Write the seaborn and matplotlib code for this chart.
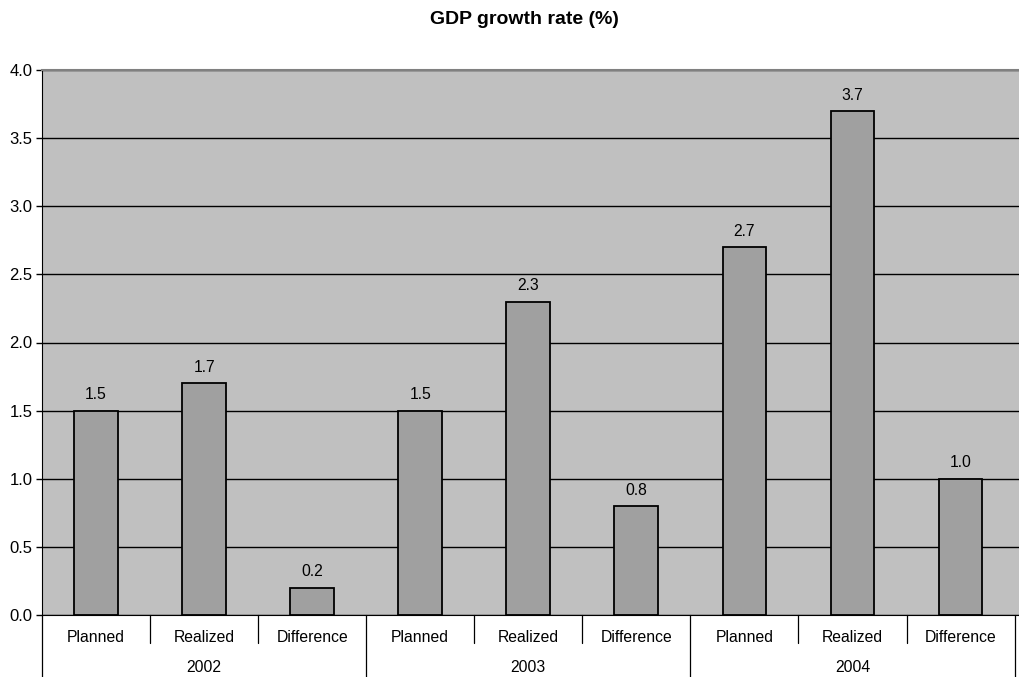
import matplotlib
matplotlib.use("Agg")
import matplotlib.pyplot as plt
import matplotlib.transforms as mtransforms
import pandas as pd
import seaborn as sns

years = ["2002", "2003", "2004"]
items = ["Planned", "Realized", "Difference"]
values = [1.5, 1.7, 0.2, 1.5, 2.3, 0.8, 2.7, 3.7, 1.0]

keys = [y + " " + i for y in years for i in items]
df = pd.DataFrame({"key": keys, "value": values})

sns.set_style("white")
plt.rcParams["font.family"] = ["Liberation Sans", "DejaVu Sans"]
plt.rcParams["text.color"] = "black"
plt.rcParams["ytick.color"] = "black"

FS = 11.3

fig = plt.figure(figsize=(10.19, 6.77), dpi=100)
ax = fig.add_axes([42 / 1019, 62 / 677, 978 / 1019, 545 / 677])
ax.set_facecolor("#C0C0C0")

sns.barplot(data=df, x="key", y="value", order=keys, color="#A0A0A0",
            saturation=1, width=0.405, edgecolor="black", linewidth=1.3, ax=ax)

ax.set_ylim(0, 4.0)
ax.set_yticks([0, 0.5, 1.0, 1.5, 2.0, 2.5, 3.0, 3.5, 4.0])
ax.set_yticklabels([f"{v:.1f}" for v in ax.get_yticks()], fontsize=12, color="black")
ax.yaxis.grid(True, color="black", linewidth=1)
ax.set_axisbelow(True)
ax.tick_params(axis="y", length=4, width=1, color="black", pad=3, left=True)
ax.set_xlim(-0.5, len(keys) - 0.5 + 0.05)

ax.spines["right"].set_visible(False)
ax.spines["top"].set_color("#808080")
ax.spines["top"].set_linewidth(1.5)
ax.spines["left"].set_color("black")
ax.spines["bottom"].set_color("black")

for p, v in zip(ax.patches, values):
    ax.annotate(f"{v:.1f}", (p.get_x() + p.get_width() / 2, p.get_height()),
                xytext=(0, 6), textcoords="offset points",
                ha="center", va="bottom", fontsize=FS, color="black")

# two-level category axis
ax.set_xticks(range(len(keys)))
ax.set_xticklabels([])
ax.tick_params(axis="x", length=0)
ax.set_xlabel("")
ax.set_ylabel("")

trans = mtransforms.blended_transform_factory(ax.transData, ax.transAxes)
h = ax.get_position().height * 6.77 * 100
for i, lbl in enumerate(items * len(years)):
    ax.text(i, -22 / h, lbl, transform=trans, ha="center", va="center", fontsize=FS)
for j, y in enumerate(years):
    ax.text(j * 3 + 1, -52 / h, y, transform=trans, ha="center", va="center", fontsize=FS)
for k in range(len(keys) + 1):
    x = k - 0.5
    bottom = -62 / h if k % 3 == 0 else -28 / h
    ax.plot([x, x], [0, bottom], transform=trans, color="black", lw=0.9, clip_on=False)

fig.text(ax.get_position().x0 + ax.get_position().width / 2 - 0.006, 1 - 20 / 677,
         "GDP growth rate (%)", ha="center", va="center", fontsize=14, fontweight="bold")

fig.savefig("out.png", dpi=100)
